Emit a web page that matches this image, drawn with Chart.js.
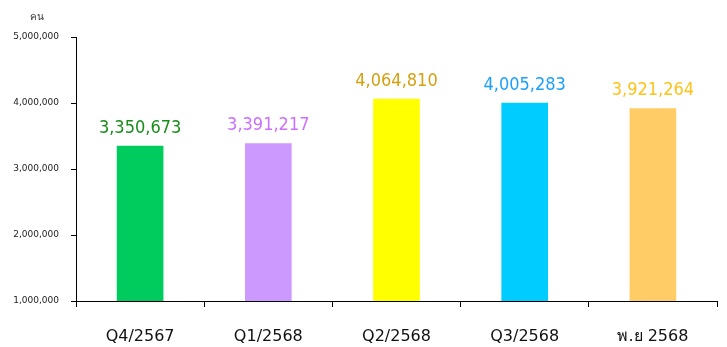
<!DOCTYPE html>
<html>
<head>
<meta charset="utf-8">
<script src="https://cdn.jsdelivr.net/npm/chart.js@4/dist/chart.umd.min.js"></script>
<style>
html,body{margin:0;padding:0;background:#fff;}
#wrap{width:727px;height:347px;}
</style>
</head>
<body>
<div id="wrap"><canvas id="c" width="727" height="347"></canvas></div>
<script>
const categories = ["Q4/2567", "Q1/2568", "Q2/2568", "Q3/2568", "พ.ย 2568"];
const values = [3350673, 3391217, 4064810, 4005283, 3921264];
const yTicks = [1000000, 2000000, 3000000, 4000000, 5000000];
const unitLabel = "คน";

const barColors = ["#00CC5E", "#CC99FF", "#FFFF00", "#00CCFF", "#FFCC66"];
const labelColors = ["#1A8C1A", "#CC6EFF", "#D4A010", "#1A9FFF", "#FFC21A"];

const valueLabels = {
  id: "valueLabels",
  afterDatasetsDraw(chart) {
    const ctx = chart.ctx;
    const meta = chart.getDatasetMeta(0);
    ctx.save();
    ctx.font = "18px 'DejaVu Sans Condensed', 'DejaVu Sans', sans-serif";
    ctx.textAlign = "center";
    ctx.textBaseline = "alphabetic";
    meta.data.forEach((bar, i) => {
      const p = bar.getProps(["x", "y"], true);
      ctx.fillStyle = labelColors[i];
      ctx.fillText(values[i].toLocaleString("en-US"), p.x, p.y - 13);
    });
    const ys = chart.scales.y;
    ctx.font = "10px 'DejaVu Sans', 'Noto Sans', sans-serif";
    ctx.fillStyle = "#333";
    ctx.textAlign = "center";
    ctx.fillText(unitLabel, ys.left + 37, ys.top - 17);
    ctx.restore();
  }
};

new Chart(document.getElementById("c"), {
  type: "bar",
  data: {
    labels: categories,
    datasets: [{
      data: values,
      backgroundColor: barColors,
      borderWidth: 0,
      barPercentage: 0.364,
      categoryPercentage: 1
    }]
  },
  options: {
    responsive: false,
    animation: false,
    devicePixelRatio: 1,
    layout: { padding: { top: 37, right: 10, left: 0, bottom: 0 } },
    plugins: { legend: { display: false }, tooltip: { enabled: false } },
    scales: {
      x: {
        grid: { drawOnChartArea: false, drawTicks: true, tickLength: 6, color: "#000", offset: true },
        border: { color: "#000", width: 1 },
        ticks: { color: "#111", font: { family: "'DejaVu Sans', sans-serif", size: 16 }, padding: 20 },
        afterFit(s) { s.height = 46; }
      },
      y: {
        min: 1000000,
        max: 5000000,
        afterBuildTicks(s) { s.ticks = yTicks.map(v => ({ value: v })); },
        grid: { drawOnChartArea: false, drawTicks: true, tickLength: 5, color: "#000" },
        border: { color: "#000", width: 1 },
        ticks: {
          color: "#222",
          font: { family: "'DejaVu Sans', sans-serif", size: 9 },
          padding: 12,
          callback: v => Number(v).toLocaleString("en-US")
        },
        afterFit(s) { s.width = 76; }
      }
    }
  },
  plugins: [valueLabels]
});
</script>
</body>
</html>
